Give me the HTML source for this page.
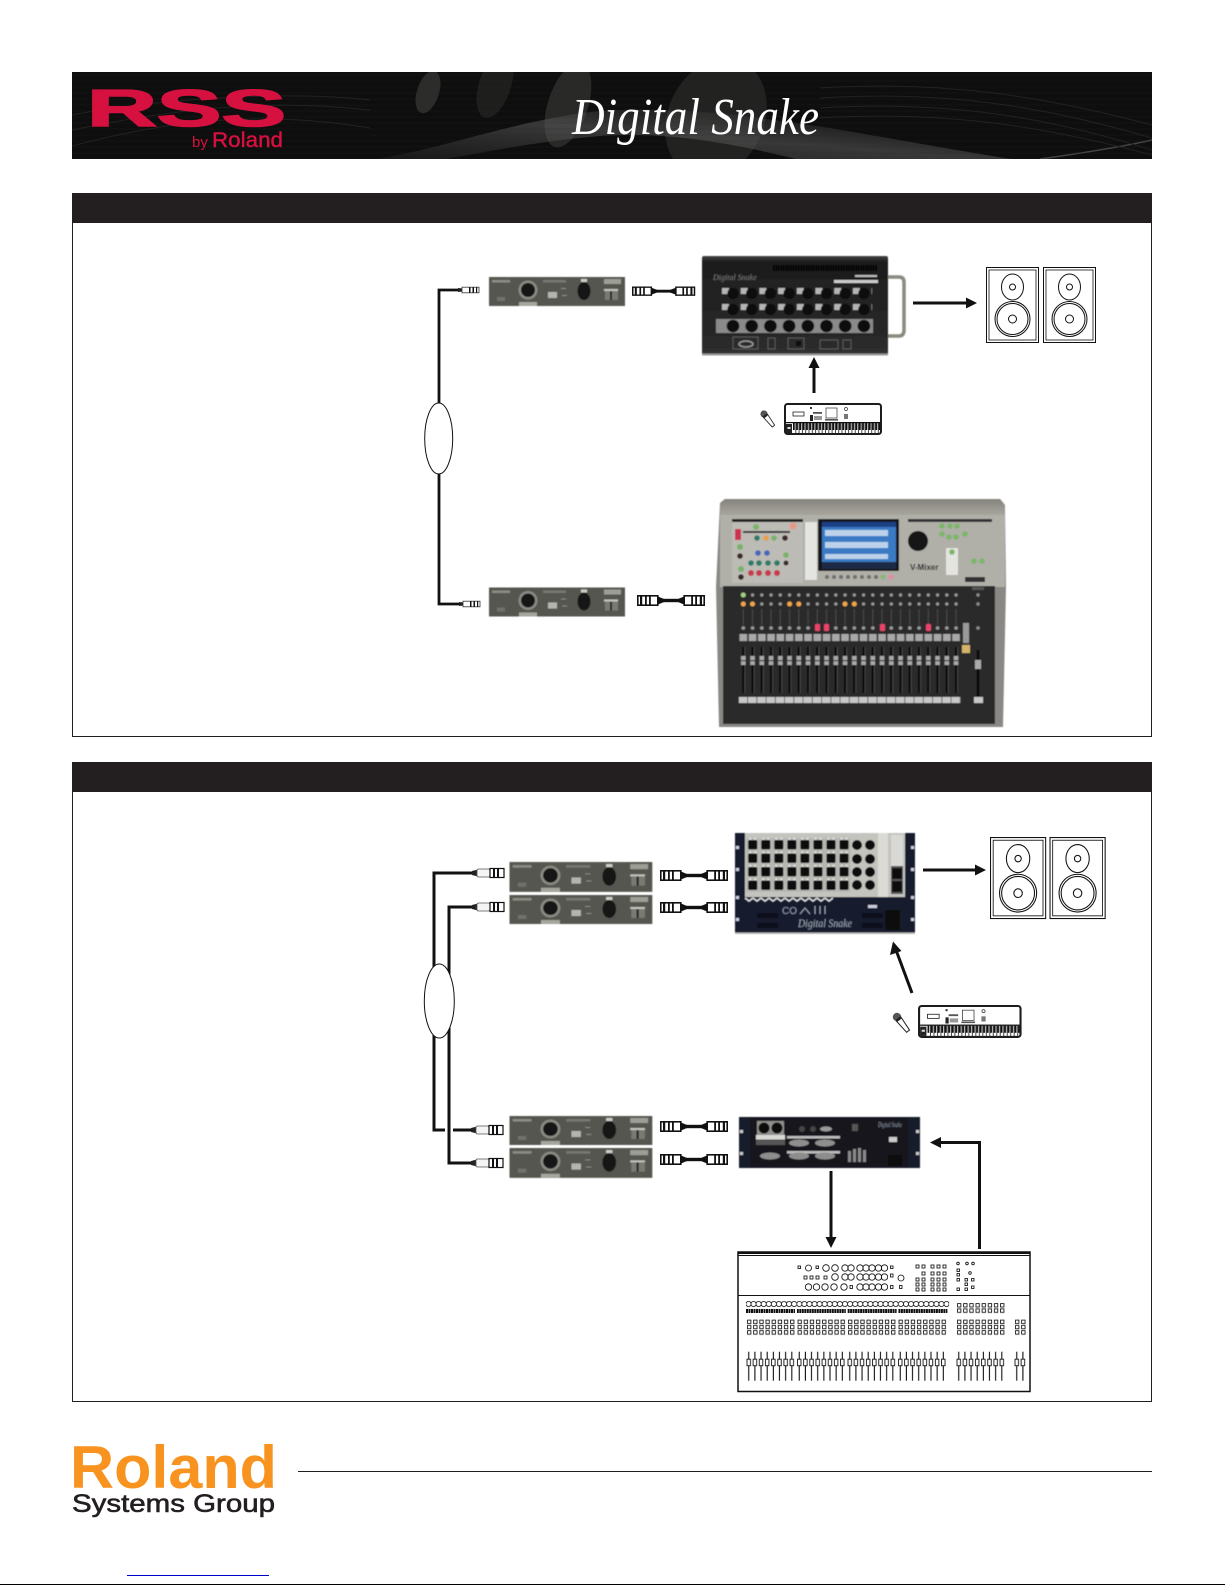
<!DOCTYPE html>
<html><head><meta charset="utf-8"><title>RSS by Roland Digital Snake</title>
<style>html,body{margin:0;padding:0;background:#fff}svg{display:block}</style></head>
<body>
<svg xmlns="http://www.w3.org/2000/svg" width="1225" height="1585" viewBox="0 0 1225 1585">
<defs>
<filter id="b" x="-5%" y="-5%" width="110%" height="110%"><feGaussianBlur stdDeviation="0.5"/></filter>
<linearGradient id="swoosh" x1="0" y1="1" x2="1" y2="0"><stop offset="0" stop-color="#555" stop-opacity=".1"/><stop offset=".5" stop-color="#5c5c5c" stop-opacity=".55"/><stop offset="1" stop-color="#333" stop-opacity="0"/></linearGradient>
<linearGradient id="boxg" x1="0" y1="0" x2="0" y2="1"><stop offset="0" stop-color="#444"/><stop offset=".06" stop-color="#1d1d1d"/><stop offset=".9" stop-color="#2a2a2a"/><stop offset="1" stop-color="#333"/></linearGradient>
<linearGradient id="topg" x1="0" y1="0" x2="0" y2="1"><stop offset="0" stop-color="#85837c"/><stop offset="1" stop-color="#a8a69e"/></linearGradient>
<pattern id="hatch" width="8" height="6" patternUnits="userSpaceOnUse"><path d="M0 3C2 2 6 4 8 3" stroke="#262626" stroke-width=".7" fill="none"/></pattern>
<g id="panel">
 <rect width="136" height="29" fill="#55574f"/>
 <rect x="3" y="3" width="18" height="2.500" fill="#8b8d85"/><rect x="8" y="20" width="8" height="4" fill="#6f716a"/>
 <circle cx="39" cy="13" r="9.500" fill="#8a8b83"/><circle cx="39" cy="13" r="7" fill="#191919"/>
 <rect x="30" y="25" width="18" height="4" fill="#a5a69c"/>
 <rect x="54" y="3" width="23" height="2.500" fill="#777971"/>
 <rect x="59" y="15" width="9" height="6" fill="#b5b5ad"/><rect x="72" y="11" width="5" height="1" fill="#8a8c84"/><rect x="73" y="18" width="5" height="1" fill="#8a8c84"/>
 <ellipse cx="95" cy="14" rx="6.500" ry="9" fill="#121212"/><rect x="92" y="2" width="6" height="3" fill="#cfcfc8"/>
 <rect x="115" y="2" width="17" height="5" fill="#9d9e96"/><rect x="115" y="12" width="14" height="2" fill="#c4c4bc"/><rect x="116" y="14" width="13" height="9" fill="#797a72"/><rect x="121" y="14" width="2" height="9" fill="#222"/>
</g>
<g id="plug">
 <rect x=".8" y=".8" width="20" height="9.400" fill="#fff" stroke="#111" stroke-width="1.600"/>
 <rect x="3" y="1" width="2.200" height="9" fill="#111"/><rect x="8" y="1" width="1.800" height="9" fill="#111"/><rect x="12" y="1" width="1.800" height="9" fill="#111"/>
 <path d="M21 1.500L27 4V7L21 9.500Z" fill="#111"/>
</g>
<g id="adapter">
 <use href="#plug"/><use href="#plug" transform="translate(68,0) scale(-1,1)"/>
 <rect x="26" y="3.800" width="16" height="3.400" fill="#111"/>
</g>
<g id="jack">
 <path d="M0 -2L5 -1.500V1.500L0 2Z" fill="#222"/>
 <rect x="4" y="-2.800" width="17" height="5.600" fill="#fff" stroke="#333" stroke-width=".8"/>
 <rect x="11" y="-2.800" width="1.500" height="5.600" fill="#111"/><rect x="14.500" y="-2.800" width="1.500" height="5.600" fill="#111"/><rect x="18" y="-2.800" width="1.200" height="5.600" fill="#111"/>
</g>
<g id="xlrj">
 <path d="M0 -2L6 -3.500V3.500L0 2Z" fill="#222"/>
 <rect x="5" y="-4" width="13" height="8" rx="1.500" fill="#f4f4f4" stroke="#555" stroke-width=".8"/>
 <rect x="18" y="-4.500" width="14" height="9" fill="#fff" stroke="#111" stroke-width="1.200"/>
 <rect x="21" y="-4" width="2" height="8" fill="#111"/><rect x="25" y="-4" width="2" height="8" fill="#111"/>
</g>
<g id="speaker">
 <rect x=".5" y=".5" width="52" height="75" fill="#fff" stroke="#111" stroke-width="1"/>
 <rect x="3" y="3" width="47" height="70" fill="#fff" stroke="#111" stroke-width=".8"/>
 <ellipse cx="26.500" cy="20" rx="11" ry="13" fill="#fff" stroke="#111" stroke-width="1"/>
 <circle cx="26.500" cy="20" r="3" fill="#fff" stroke="#111" stroke-width="1"/>
 <circle cx="26.500" cy="52" r="17.500" fill="#fff" stroke="#111" stroke-width="1"/>
 <circle cx="26.500" cy="52" r="15.500" fill="#fff" stroke="#111" stroke-width="1"/>
 <circle cx="26.500" cy="52" r="4" fill="#fff" stroke="#111" stroke-width="1"/>
</g>
<pattern id="kbkeys" width="3.300" height="11" patternUnits="userSpaceOnUse"><rect x="0" y="0" width="1.700" height="7" fill="#111"/><rect x="2.400" y="0" width=".8" height="11" fill="#222"/></pattern>
<g id="keyboard">
 <rect x="1" y="1" width="96" height="30" rx="2.500" fill="#fff" stroke="#1c1c1c" stroke-width="2"/>
 <rect x="2" y="19" width="94" height="1.200" fill="#111"/>
 <rect transform="translate(9,20)" width="87" height="11" fill="url(#kbkeys)"/>
 <rect x="2" y="21" width="6" height="9" fill="#222"/><rect x="3.500" y="24" width="3" height="2" fill="#ddd"/>
 <rect x="9" y="9" width="11" height="4" fill="#fff" stroke="#222" stroke-width=".8"/>
 <rect x="26" y="4" width="2" height="2" fill="#333"/><rect x="29" y="9" width="9" height="1.800" fill="#555"/>
 <rect x="26" y="12" width="3" height="6" fill="#222"/><rect x="30" y="13" width="8" height="4" fill="#999"/>
 <rect x="42" y="5" width="11" height="10" fill="#fff" stroke="#333" stroke-width=".7"/><rect x="41" y="16" width="13" height="1.600" fill="#555"/>
 <circle cx="62" cy="6" r="1.500" fill="none" stroke="#333" stroke-width=".7"/><rect x="60" y="11" width="4" height="5" fill="#777"/>
</g>
<g id="mic">
 <path d="M-3 3L3 3L1.800 18L-1.800 18Z" fill="#fff" stroke="#222" stroke-width="1"/>
 <circle cx="0" cy="0" r="4.200" fill="#555"/><rect x="-3.200" y="1.500" width="6.400" height="2.500" fill="#222"/>
</g>
<pattern id="sq" width="6.150" height="5.300" patternUnits="userSpaceOnUse"><rect x="1" y=".6" width="3.400" height="3.400" fill="none" stroke="#111" stroke-width=".85"/></pattern>
<pattern id="fad" width="6.150" height="29" patternUnits="userSpaceOnUse"><rect x="2.200" width="1.100" height="29" fill="#111"/><rect x="1" y="7.500" width="3.500" height="6.500" fill="#fff" stroke="#111" stroke-width=".9"/></pattern>
<pattern id="cir" width="5.070" height="7" patternUnits="userSpaceOnUse"><circle cx="2.500" cy="3.500" r="2.600" fill="none" stroke="#111" stroke-width=".8"/></pattern>
<pattern id="drk" width="2.500" height="4" patternUnits="userSpaceOnUse"><rect width="2" height="4" fill="#111"/></pattern>
<pattern id="strip" width="9.250" height="140" patternUnits="userSpaceOnUse">
 <circle cx="4.600" cy="8" r="1.600" fill="#999"/><circle cx="4.600" cy="17" r="1.600" fill="#999"/>
 <rect x="4.200" y="22" width=".8" height="16" fill="#555"/><circle cx="4.600" cy="41" r="1.800" fill="#999"/>
 <rect x=".8" y="47" width="7.600" height="7" fill="#a8a8a8"/>
 <rect x="3.400" y="60" width="2.400" height="46" fill="#0a0a0a"/><rect x="5.800" y="60" width=".7" height="46" fill="#555"/><rect x="2.300" y="69" width="4.600" height="9" fill="#aaa"/><rect x="2.300" y="73" width="4.600" height="1.200" fill="#333"/>
 <rect x="0" y="110" width="8.600" height="6" fill="#c8c8c8"/>
</pattern>
<pattern id="snk" width="18.700" height="16" patternUnits="userSpaceOnUse"><rect x="0" y="1" width="7" height="6" fill="#b5b5b5"/><circle cx="11" cy="6.500" r="5.600" fill="#0b0b0b"/></pattern>
<pattern id="xlrrow" width="18.700" height="14" patternUnits="userSpaceOnUse"><circle cx="9.350" cy="7" r="6.300" fill="#0d0d0d"/></pattern>
<pattern id="vent" width="2.500" height="6" patternUnits="userSpaceOnUse"><rect width="1.700" height="6" fill="#050505"/></pattern>
<pattern id="rk" width="13.050" height="13.500" patternUnits="userSpaceOnUse"><rect width="13.050" height="13.500" fill="#b7b7b2"/><rect x="2" y="2" width="9" height="9.500" rx="1.500" fill="#0b0b0b"/><rect x="3" y="0" width="2" height="1.400" fill="#eee"/><rect x="8" y="0" width="2" height="1.400" fill="#eee"/></pattern>
</defs>

<!-- Banner -->
<rect x="72" y="72" width="1080" height="87" fill="#0e0e0e"/>
<svg x="72" y="72" width="1080" height="87" viewBox="72 72 1080 87">
 <ellipse cx="428" cy="92" rx="11" ry="22" transform="rotate(18 428 92)" fill="#2c2c2a"/>
 <ellipse cx="495" cy="85" rx="16" ry="34" transform="rotate(18 495 85)" fill="#1e1e1d"/>
 <ellipse cx="568" cy="105" rx="20" ry="44" transform="rotate(18 568 105)" fill="#292928"/>
 <ellipse cx="716" cy="118" rx="48" ry="62" transform="rotate(25 716 118)" fill="#222221"/>
 <path d="M370 160C440 150 510 122 590 112C680 104 760 118 830 128C900 140 1000 158 1020 160H800C720 140 660 132 600 136C530 142 470 155 430 162Z" fill="url(#swoosh)"/>
 <path d="M1040 159C1090 152 1125 146 1152 140" stroke="#444" stroke-width="1.500" fill="none"/>
 <path d="M72 146C170 120 260 110 370 128M72 130C170 110 260 98 370 110M72 115C150 100 280 90 370 100M820 108C950 100 1050 118 1152 150M820 118C950 110 1050 128 1152 155M820 98C950 90 1050 108 1152 138M820 88C950 80 1050 98 1152 125" stroke="#222" stroke-width="1" fill="none"/>
 <rect x="72" y="72" width="1080" height="87" fill="url(#hatch)" opacity=".3"/>
</svg>
<text x="87" y="126" font-family="Liberation Sans, sans-serif" font-weight="700" font-size="52" fill="#d6113f" stroke="#d6113f" stroke-width="1.500" textLength="199" lengthAdjust="spacingAndGlyphs">RSS</text>
<text x="192" y="147" font-family="Liberation Sans, sans-serif" font-size="15" fill="#d6113f">by</text>
<text x="212" y="147" font-family="Liberation Sans, sans-serif" font-size="21" fill="#d6113f" stroke="#d6113f" stroke-width=".4" textLength="71" lengthAdjust="spacingAndGlyphs">Roland</text>
<text x="572" y="134" font-family="Liberation Serif, serif" font-style="italic" font-size="52" fill="#fff" textLength="247" lengthAdjust="spacingAndGlyphs">Digital Snake</text>

<!-- Section 1 -->
<rect x="72.500" y="193.500" width="1079" height="543" fill="#fff" stroke="#231f20" stroke-width="1"/>
<rect x="72" y="193" width="1080" height="30" fill="#231f20"/>

<path d="M459 290H439V604H459" fill="none" stroke="#111" stroke-width="2.800"/>
<ellipse cx="438.700" cy="438.500" rx="14" ry="35.500" fill="#fff" stroke="#111" stroke-width="1"/>
<use href="#jack" transform="translate(458,290)"/>
<use href="#jack" transform="translate(459,604)"/>
<g filter="url(#b)"><use href="#panel" transform="translate(489,277)"/><use href="#panel" transform="translate(489,587.500)"/></g>
<use href="#adapter" transform="translate(632,286.500) scale(.93,.85)"/>
<use href="#adapter" transform="translate(637,595)"/>

<!-- FOH stage box -->
<g filter="url(#b)">
 <path d="M887 277H899Q904 277 904 282V330Q904 336 899 336H887" fill="none" stroke="#8a8a80" stroke-width="3.500"/>
 <rect x="702" y="256" width="186" height="99" rx="2" fill="url(#boxg)"/>
 <rect x="702" y="353.500" width="186" height="2" fill="#999"/>
 <rect transform="translate(773,265)" width="104" height="6" fill="url(#vent)"/>
 <rect x="855" y="275" width="22" height="2" fill="#bbb"/><rect x="834" y="280" width="44" height="3" fill="#ccc"/>
 <text x="713" y="280" font-family="Liberation Serif, serif" font-style="italic" font-size="8" fill="#777">Digital Snake</text>
 <rect transform="translate(722,287)" width="150" height="16" fill="url(#snk)"/>
 <rect transform="translate(722,303)" width="150" height="16" fill="url(#snk)"/>
 <rect x="716" y="319" width="157" height="14" fill="#8a8a8a"/>
 <rect transform="translate(723.650,319)" width="149.600" height="14" fill="url(#xlrrow)"/>
 <g fill="none" stroke="#666" stroke-width=".8">
  <rect x="733" y="337" width="25" height="12"/><rect x="768" y="338" width="7" height="11"/><rect x="788" y="338" width="16" height="11"/><rect x="820" y="340" width="18" height="9"/><rect x="843" y="340" width="8" height="9"/>
 </g>
 <ellipse cx="746" cy="344" rx="7" ry="3" fill="none" stroke="#999" stroke-width="1.500"/><rect x="796" y="341" width="5" height="5" fill="#0a0a0a"/>
</g>
<use href="#speaker" transform="translate(986,267)"/>
<use href="#speaker" transform="translate(1043,267)"/>
<path d="M913 303H967" stroke="#111" stroke-width="3"/><path d="M966 297.500L977 303L966 308.500Z" fill="#111"/>
<path d="M814 393V367" stroke="#111" stroke-width="3"/><path d="M808.500 368L814 357L819.500 368Z" fill="#111"/>
<use href="#keyboard" transform="translate(784,403)"/>
<use href="#mic" transform="translate(764,414) rotate(-38) scale(.85)"/>

<!-- V-Mixer -->
<g filter="url(#b)">
 <path d="M720 503L725 499H1000L1005 505L1006 587L1003 727H719L716 587Z" fill="#8a8884"/>
 <path d="M720 503L725 499H1000L1005 505V515H720Z" fill="url(#topg)"/>
 <rect x="720" y="515" width="285" height="72" fill="#b0afa8"/>
 <rect x="732" y="519" width="71" height="64" fill="#bcbbb5"/><rect x="732" y="519" width="71" height="3" fill="#222"/>
 <rect x="805" y="522" width="12" height="58" fill="#e4e4e0"/>
 <rect x="743" y="531" width="47" height="2" fill="#333"/>
 <rect x="735" y="529" width="6" height="11" fill="#cc3350"/>
 <circle cx="756" cy="527" r="3" fill="#7cb66a"/><circle cx="793" cy="526" r="3.500" fill="#e49a8a"/>
 <circle cx="757" cy="538" r="2.800" fill="#347a63"/><circle cx="766" cy="538" r="2.800" fill="#e7a04f"/><circle cx="774" cy="538" r="2.800" fill="#79b36b"/><circle cx="785" cy="538" r="2.800" fill="#3b2a20"/>
 <circle cx="740" cy="547" r="3" fill="#79b36b"/><circle cx="740" cy="556" r="2.800" fill="#3b2a20"/><circle cx="741" cy="569" r="3" fill="#79b36b"/><circle cx="741" cy="577" r="2.800" fill="#3b2a20"/>
 <g fill="#4468b8"><circle cx="758" cy="553" r="2.800"/><circle cx="767" cy="553" r="2.800"/></g>
 <g fill="#2c7b68"><circle cx="751" cy="563" r="2.800"/><circle cx="759" cy="563" r="2.800"/><circle cx="768" cy="563" r="2.800"/><circle cx="777" cy="563" r="2.800"/></g>
 <g fill="#c73a4e"><circle cx="751" cy="573" r="3"/><circle cx="759" cy="573" r="3"/><circle cx="768" cy="573" r="3"/><circle cx="777" cy="573" r="3"/></g>
 <circle cx="786" cy="555" r="2.800" fill="#79b36b"/><circle cx="786" cy="563" r="2.500" fill="#3b2a20"/>
 <rect x="818" y="519" width="81" height="52" rx="1" fill="#13171d"/>
 <rect x="822" y="522" width="74" height="40" fill="#3b7ac4"/>
 <rect x="822" y="522" width="74" height="5" fill="#1a3f86"/>
 <g fill="#bcd2ea"><rect x="825" y="530" width="63" height="6"/><rect x="825" y="542" width="63" height="6"/><rect x="825" y="554" width="63" height="5"/></g>
 <rect x="822" y="562" width="74" height="7" fill="#1c2a44"/>
 <g fill="#6f6f6c"><circle cx="827" cy="577" r="2"/><circle cx="834" cy="577" r="2"/><circle cx="841" cy="577" r="2"/><circle cx="848" cy="577" r="2"/><circle cx="855" cy="577" r="2"/><circle cx="862" cy="577" r="2"/><circle cx="869" cy="577" r="2"/><circle cx="876" cy="577" r="2"/></g>
 <circle cx="883" cy="577" r="2.500" fill="#86b872"/><circle cx="891" cy="577" r="2.500" fill="#e48aa0"/>
 <rect x="908" y="519" width="84" height="3" fill="#333"/>
 <circle cx="918" cy="541" r="10" fill="#181818"/>
 <g fill="#7cb66a"><circle cx="942" cy="526" r="2.800"/><circle cx="950" cy="526" r="2.800"/><circle cx="957" cy="526" r="2.800"/><circle cx="942" cy="534" r="2.800"/><circle cx="949" cy="537" r="2.800"/><circle cx="956" cy="537" r="2.800"/><circle cx="965" cy="534" r="2.800"/></g>
 <rect x="946" y="548" width="12" height="27" fill="#e5e5e0"/>
 <g fill="#7cb66a"><circle cx="952" cy="552" r="2.800"/><circle cx="974" cy="561" r="2.800"/><circle cx="982" cy="561" r="2.800"/></g>
 <text x="910" y="570" font-family="Liberation Sans, sans-serif" font-weight="700" font-size="8" fill="#222">V-Mixer</text>
 <rect x="965" y="577" width="20" height="5" fill="#333"/>
 <rect x="723" y="586" width="272" height="138" fill="#2a2a2c"/>
 <rect transform="translate(738.700,587)" width="222" height="140" fill="url(#strip)"/>
 <circle cx="743.300" cy="595" r="2.500" fill="#9fd07f"/>
 <g fill="#eea44d"><circle cx="743.300" cy="604" r="2.500"/><circle cx="752.500" cy="604" r="2.500"/><circle cx="789.600" cy="604" r="2.500"/><circle cx="798.800" cy="604" r="2.500"/><circle cx="845" cy="604" r="2.500"/><circle cx="854.300" cy="604" r="2.500"/></g>
 <g fill="#e8456a"><rect x="815" y="624" width="5" height="7" rx="1"/><rect x="824" y="624" width="5" height="7" rx="1"/><rect x="880" y="624" width="5" height="7" rx="1"/><rect x="926" y="624" width="5" height="7" rx="1"/></g>
 <rect x="963" y="623" width="6" height="20" fill="#999"/><rect x="962" y="645" width="8" height="8" fill="#d6b36a"/>
 <rect x="972" y="587" width="12" height="3" fill="#555"/>
 <circle cx="978" cy="595" r="1.700" fill="#888"/><circle cx="978" cy="604" r="1.700" fill="#888"/><circle cx="978" cy="628" r="1.800" fill="#888"/>
 <rect x="976.500" y="650" width="3" height="48" fill="#0a0a0a"/><rect x="975" y="660" width="6" height="9" fill="#aaa"/>
 <rect x="974" y="697" width="9" height="6" fill="#c8c8c8"/>
</g>

<!-- Section 2 -->
<rect x="72.500" y="762.500" width="1079" height="639" fill="#fff" stroke="#231f20" stroke-width="1"/>
<rect x="72" y="762" width="1080" height="30" fill="#231f20"/>

<path d="M472 873H434V1130H445M453 1130H472" fill="none" stroke="#111" stroke-width="3"/>
<path d="M472 907H449V1163H472" fill="none" stroke="#111" stroke-width="3"/>
<ellipse cx="439.300" cy="1001" rx="15" ry="37" fill="#fff" stroke="#111" stroke-width="1"/>
<use href="#xlrj" transform="translate(472,873)"/><use href="#xlrj" transform="translate(472,907)"/>
<use href="#xlrj" transform="translate(471,1130)"/><use href="#xlrj" transform="translate(471,1163)"/>
<g filter="url(#b)">
 <use href="#panel" transform="translate(509.500,862) scale(1.050,1.030)"/>
 <use href="#panel" transform="translate(509.500,895) scale(1.050,1.000)"/>
 <use href="#panel" transform="translate(509.500,1116) scale(1.050,1.000)"/>
 <use href="#panel" transform="translate(509.500,1148) scale(1.050,1.030)"/>
</g>
<use href="#adapter" transform="translate(660,870)"/><use href="#adapter" transform="translate(660,902)"/>
<use href="#adapter" transform="translate(660,1121)"/><use href="#adapter" transform="translate(660,1154)"/>

<!-- Rack -->
<g filter="url(#b)">
 <rect x="735" y="833" width="180" height="101" fill="#141c2e"/>
 <rect x="745" y="833" width="160" height="64" fill="#c4c4bf"/>
 <rect transform="translate(746.200,838)" width="104.400" height="54" fill="url(#rk)"/>
 <g fill="#0b0b0b"><circle cx="857" cy="845" r="5"/><circle cx="870" cy="845" r="5"/><circle cx="857" cy="859" r="5"/><circle cx="870" cy="859" r="5"/><circle cx="857" cy="872" r="5"/><circle cx="870" cy="872" r="5"/><circle cx="857" cy="885" r="5"/><circle cx="870" cy="885" r="5"/></g>
 <rect x="878" y="833" width="10" height="64" fill="#dcdad4"/>
 <rect x="891" y="835" width="12" height="31" fill="#d8d8d4"/>
 <rect x="891" y="866" width="12" height="28" fill="#555"/>
 <rect x="892" y="868" width="10" height="11" fill="#0c0c0c"/><rect x="892" y="881" width="10" height="11" fill="#0c0c0c"/>
 <path d="M745 898l4 3 4-3 4 3 4-3 4 3 4-3 4 3 4-3 4 3 4-3 4 3 4-3 4 3 4-3 4 3 4-3 4 3 4-3 4 3 4-3 4 3 4-3" stroke="#ddd" stroke-width="1.500" fill="none"/>
 <text x="798" y="927" font-family="Liberation Serif, serif" font-style="italic" font-size="12" fill="#9aa3b3" textLength="54" lengthAdjust="spacingAndGlyphs">Digital Snake</text>
 <text x="782" y="914" font-family="Liberation Sans, sans-serif" font-size="10" fill="#8d97aa">CO</text>
 <path d="M800 914l5-6 5 6M815 914v-8M820 914v-8M825 914v-8" stroke="#9aa3b3" fill="none"/>
 <g fill="#0a0f1a"><rect x="757" y="913" width="21" height="5"/><rect x="757" y="923" width="21" height="5"/><rect x="862" y="913" width="21" height="5"/><rect x="862" y="923" width="21" height="5"/></g>
 <rect x="868" y="905" width="9" height="3" fill="#ccd"/><rect x="885" y="910" width="15" height="20" fill="#080a10"/>
 <rect x="735" y="932.500" width="180" height="1.500" fill="#b5b5b5"/>
 <g fill="#ccd"><rect x="736" y="846" width="3" height="3"/><rect x="736" y="868" width="3" height="3"/><rect x="736" y="896" width="3" height="3"/><rect x="736" y="918" width="3" height="3"/><rect x="911" y="846" width="3" height="3"/><rect x="911" y="868" width="3" height="3"/><rect x="911" y="896" width="3" height="3"/><rect x="911" y="918" width="3" height="3"/></g>
</g>
<use href="#speaker" transform="translate(990,837) scale(1.060,1.080)"/>
<use href="#speaker" transform="translate(1049.500,837) scale(1.060,1.080)"/>
<path d="M923 870H976" stroke="#111" stroke-width="3"/><path d="M975 864.500L986 870L975 875.500Z" fill="#111"/>
<path d="M912 993L896 950" stroke="#111" stroke-width="3"/><path d="M893 941.500L901.500 951L890 955Z" fill="#111"/>
<use href="#keyboard" transform="translate(918,1005) scale(1.057,1.030)"/>
<use href="#mic" transform="translate(897,1017) rotate(-38)"/>

<!-- Rack unit 2 -->
<g filter="url(#b)">
 <rect x="739" y="1117" width="181" height="51" fill="#121a2b"/>
 <rect x="750" y="1118" width="158" height="49" fill="#17191f"/>
 <rect x="757" y="1121" width="27" height="14" fill="#8f8f8b"/><circle cx="764" cy="1128" r="5.500" fill="#0c0c0c"/><circle cx="777" cy="1128" r="5.500" fill="#0c0c0c"/>
 <rect x="756" y="1135" width="29" height="4.500" fill="#d8d8d4"/><rect x="756" y="1140" width="29" height="5" fill="#555"/>
 <circle cx="802" cy="1129" r="3" fill="#444"/><circle cx="813" cy="1129" r="3" fill="#444"/>
 <ellipse cx="826" cy="1129" rx="6" ry="2.500" fill="#999"/>
 <rect x="852" y="1124" width="6" height="7" fill="#555"/>
 <rect x="787" y="1136" width="53" height="2.500" fill="#bbb"/><rect x="787" y="1151" width="53" height="2.500" fill="#bbb"/>
 <g fill="#8e8e8e"><ellipse cx="799" cy="1143" rx="10" ry="3.500"/><ellipse cx="825" cy="1143" rx="10" ry="3.500"/><ellipse cx="770" cy="1156" rx="10" ry="3.500"/><ellipse cx="799" cy="1156" rx="10" ry="3.500"/><ellipse cx="825" cy="1156" rx="10" ry="3.500"/></g>
 <g fill="#888"><rect x="848" y="1151" width="3" height="11"/><rect x="853" y="1149" width="3" height="13"/><rect x="858" y="1148" width="3" height="14"/><rect x="863" y="1150" width="3" height="12"/></g>
 <text x="878" y="1127" font-family="Liberation Serif, serif" font-style="italic" font-size="7" fill="#8b93a3" textLength="24" lengthAdjust="spacingAndGlyphs">Digital Snake</text>
 <rect x="889" y="1137" width="8" height="5" fill="#ccc"/><rect x="888" y="1155" width="14" height="11" fill="#0a0a0a"/>
 <g fill="#ccc"><rect x="740" y="1130" width="3" height="3"/><rect x="740" y="1152" width="3" height="3"/><rect x="916" y="1130" width="3" height="3"/><rect x="916" y="1152" width="3" height="3"/></g>
</g>
<path d="M831 1171V1238" stroke="#111" stroke-width="3"/><path d="M825.500 1237L831 1248L836.500 1237Z" fill="#111"/>
<path d="M979.500 1249V1142.500H940" fill="none" stroke="#111" stroke-width="3"/><path d="M941 1137L930 1142.500L941 1148Z" fill="#111"/>

<!-- Analog console -->
<rect x="738" y="1252" width="292" height="139.500" fill="#fff" stroke="#111" stroke-width="1.500"/>
<rect x="738" y="1252" width="292" height="2" fill="#111"/>
<path d="M738 1255.500H1030M738 1295.500H1030" stroke="#111" stroke-width="1.100"/>
<g fill="none" stroke="#111" stroke-width=".85">
 <rect x="798" y="1266" width="2.500" height="2.500"/><circle cx="808.500" cy="1268" r="3"/><rect x="816" y="1266" width="2.500" height="2.500"/>
 <circle cx="826" cy="1268" r="3.300"/><circle cx="835" cy="1268" r="3.300"/><circle cx="845" cy="1268" r="3.200"/><circle cx="851" cy="1268" r="3.200"/><circle cx="860" cy="1268" r="3.200"/><circle cx="866" cy="1268" r="3.200"/><circle cx="872" cy="1268" r="3.200"/><circle cx="878.500" cy="1268" r="3.200"/><circle cx="884.500" cy="1268" r="3.200"/><rect x="890.500" y="1266" width="2.500" height="2.500"/>
 <rect x="804" y="1276" width="3" height="3"/><rect x="810" y="1276" width="3" height="3"/><rect x="816" y="1276" width="3" height="3"/><rect x="824" y="1276" width="3" height="3"/>
 <circle cx="835" cy="1277" r="3.300"/><circle cx="845" cy="1277" r="3.200"/><circle cx="851" cy="1277" r="3.200"/><circle cx="860" cy="1277" r="3.200"/><circle cx="866" cy="1277" r="3.200"/><circle cx="872" cy="1277" r="3.200"/><circle cx="878.500" cy="1277" r="3.200"/><circle cx="884.500" cy="1277" r="3.200"/><rect x="890.500" y="1274" width="2.500" height="3"/><circle cx="901" cy="1278" r="3"/>
 <circle cx="808.500" cy="1287" r="3.200"/><circle cx="816.500" cy="1287" r="3.200"/><circle cx="825" cy="1287" r="3.200"/><circle cx="834" cy="1287" r="3.200"/><circle cx="844" cy="1287" r="3.200"/><rect x="850" y="1285.500" width="2.500" height="3"/><circle cx="860" cy="1287" r="3.200"/><circle cx="866" cy="1287" r="3.200"/><circle cx="872" cy="1287" r="3.200"/><circle cx="878.500" cy="1287" r="3.200"/><circle cx="884.500" cy="1287" r="3.200"/><rect x="890.500" y="1285.500" width="2.500" height="3"/><rect x="899.500" y="1285.500" width="2.500" height="3"/>
 <rect x="916" y="1265" width="3" height="3"/><rect x="922" y="1265" width="3" height="3"/><rect x="931" y="1265" width="3" height="3"/><rect x="937" y="1265" width="3" height="3"/><rect x="943" y="1265" width="3" height="3"/>
 <rect x="922" y="1272" width="3" height="3"/><rect x="931" y="1272" width="3" height="3"/><rect x="937" y="1272" width="3" height="3"/><rect x="943" y="1272" width="3" height="3"/>
 <rect x="916" y="1278" width="3" height="3"/><rect x="922" y="1278" width="3" height="3"/><rect x="931" y="1278" width="3" height="3"/><rect x="937" y="1278" width="3" height="3"/><rect x="943" y="1278" width="3" height="3"/>
 <rect x="916" y="1283" width="3" height="3"/><rect x="922" y="1283" width="3" height="3"/><rect x="931" y="1283" width="3" height="3"/><rect x="937" y="1283" width="3" height="3"/><rect x="943" y="1283" width="3" height="3"/>
 <rect x="916" y="1288" width="3" height="3"/><rect x="922" y="1288" width="3" height="3"/><rect x="931" y="1288" width="3" height="3"/><rect x="937" y="1288" width="3" height="3"/><rect x="943" y="1288" width="3" height="3"/>
 <circle cx="958" cy="1263.500" r="1.300"/><circle cx="967" cy="1263.500" r="1.300"/><circle cx="973" cy="1263.500" r="1.300"/><circle cx="970" cy="1273" r="1.300"/>
 <rect x="957" y="1269" width="2.500" height="2.500"/><rect x="957" y="1273.500" width="2.500" height="2.500"/><rect x="957" y="1278.500" width="2.500" height="2.500"/><rect x="965" y="1278.500" width="2.500" height="2.500"/><rect x="971.500" y="1278.500" width="2.500" height="2.500"/><rect x="965" y="1283" width="2.500" height="2.500"/><rect x="971.500" y="1286" width="2.500" height="2.500"/><rect x="965" y="1288" width="2.500" height="2.500"/><rect x="957" y="1288" width="2.500" height="2.500"/>
</g>
<g>
 <rect transform="translate(746,1300.500)" width="50.700" height="7" fill="url(#cir)"/>
 <rect transform="translate(796.800,1300.500)" width="50.700" height="7" fill="url(#cir)"/>
 <rect transform="translate(847.600,1300.500)" width="50.700" height="7" fill="url(#cir)"/>
 <rect transform="translate(898.400,1300.500)" width="50.700" height="7" fill="url(#cir)"/>
 <rect transform="translate(746,1309)" width="49" height="4" fill="url(#drk)"/>
 <rect transform="translate(796.800,1309)" width="49" height="4" fill="url(#drk)"/>
 <rect transform="translate(847.600,1309)" width="49" height="4" fill="url(#drk)"/>
 <rect transform="translate(898.400,1309)" width="49" height="4" fill="url(#drk)"/>
 <rect transform="translate(956.500,1303)" width="49.200" height="10.600" fill="url(#sq)"/>
 <rect transform="translate(746.500,1319.500)" width="49.200" height="15.900" fill="url(#sq)"/>
 <rect transform="translate(797,1319.500)" width="49.200" height="15.900" fill="url(#sq)"/>
 <rect transform="translate(847.500,1319.500)" width="49.200" height="15.900" fill="url(#sq)"/>
 <rect transform="translate(898,1319.500)" width="49.200" height="15.900" fill="url(#sq)"/>
 <rect transform="translate(956.500,1319.500)" width="49.200" height="15.900" fill="url(#sq)"/>
 <rect transform="translate(1014.500,1319.500)" width="12.300" height="15.900" fill="url(#sq)"/>
 <rect transform="translate(746,1351.700)" width="49.200" height="29" fill="url(#fad)"/>
 <rect transform="translate(796.500,1351.700)" width="49.200" height="29" fill="url(#fad)"/>
 <rect transform="translate(847,1351.700)" width="49.200" height="29" fill="url(#fad)"/>
 <rect transform="translate(897.500,1351.700)" width="49.200" height="29" fill="url(#fad)"/>
 <rect transform="translate(956,1351.700)" width="49.200" height="29" fill="url(#fad)"/>
 <rect transform="translate(1014,1351.700)" width="12.300" height="29" fill="url(#fad)"/>
</g>

<!-- Footer -->
<text x="70" y="1488" font-family="Liberation Sans, sans-serif" font-weight="700" font-size="60" fill="#f7931e" textLength="207" lengthAdjust="spacingAndGlyphs">Roland</text>
<text x="72" y="1512" font-family="Liberation Sans, sans-serif" font-size="25" fill="#231f20" stroke="#231f20" stroke-width=".6" textLength="203" lengthAdjust="spacingAndGlyphs">Systems Group</text>
<rect x="298" y="1471" width="854" height="1" fill="#231f20"/>
<rect x="127" y="1575" width="142" height="1" fill="#0000cc"/>
<rect x="0" y="1584" width="1225" height="1" fill="#000"/>
</svg>
</body></html>
